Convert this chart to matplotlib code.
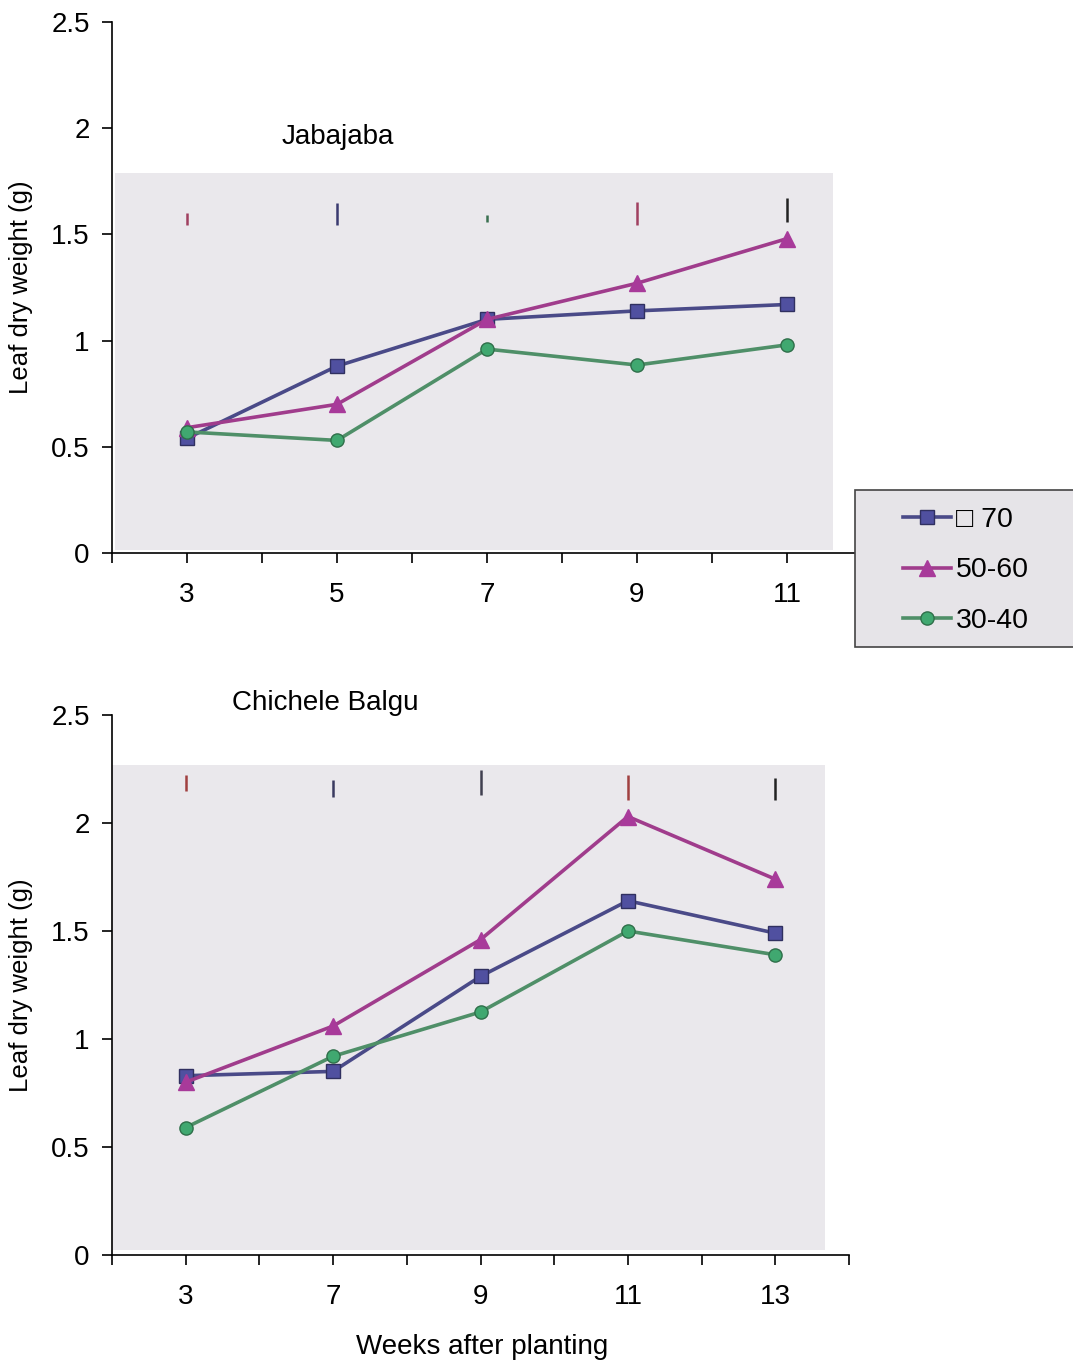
import numpy as np
import matplotlib
matplotlib.use("Agg")
import matplotlib.pyplot as plt
from matplotlib.patches import Rectangle

plt.rcParams['font.family'] = ['Liberation Sans', 'DejaVu Sans']

# data
weeks_top = ["3", "5", "7", "9", "11"]
weeks_bot = ["3", "7", "9", "11", "13"]
labels = ["\u25a1 70", "50-60", "30-40"]

jab_70 = [0.54, 0.88, 1.10, 1.14, 1.17]
jab_50 = [0.59, 0.70, 1.10, 1.27, 1.48]
jab_30 = [0.57, 0.53, 0.96, 0.885, 0.98]

chi_70 = [0.83, 0.85, 1.29, 1.64, 1.49]
chi_50 = [0.80, 1.06, 1.46, 2.03, 1.74]
chi_30 = [0.59, 0.92, 1.125, 1.50, 1.39]

# small vertical bars at the top of each panel (low, high)
jab_bar_lo = [1.544, 1.544, 1.56, 1.544, 1.56]
jab_bar_hi = [1.60, 1.648, 1.591, 1.652, 1.67]
jab_bar_col = ["#a04060", "#3a3a70", "#3a7050", "#a04060", "#222222"]
chi_bar_lo = [2.15, 2.12, 2.13, 2.107, 2.107]
chi_bar_hi = [2.22, 2.20, 2.245, 2.22, 2.21]
chi_bar_col = ["#a04040", "#3a3a60", "#404050", "#a04040", "#222222"]

col_70 = "#4a4a88"
col_50 = "#a03c8c"
col_30 = "#4f8f68"

fig = plt.figure(figsize=(10.73, 13.62), dpi=100)

# grey scanned background behind plots
fig.patches.append(Rectangle((115/1073, 1-550/1362), 718/1073, 377/1362,
                             transform=fig.transFigure, facecolor="#eae8ec",
                             edgecolor="none", zorder=0))
fig.patches.append(Rectangle((112/1073, 1-1250/1362), 713/1073, 485/1362,
                             transform=fig.transFigure, facecolor="#eae8ec",
                             edgecolor="none", zorder=0))
# legend box
fig.patches.append(Rectangle((855/1073, 1-647/1362), 230/1073, 157/1362,
                             transform=fig.transFigure, facecolor="#e6e4e8",
                             edgecolor="#444444", lw=1.2, zorder=3))

ax1 = fig.add_axes([112/1073, 1-553/1362, 750/1073, 531/1362])
ax2 = fig.add_axes([112/1073, 1-1255/1362, 737/1073, 540/1362])
ax1.set_zorder(2)
ax2.set_zorder(2)


def draw(ax, cats, s70, s50, s30, blo, bhi, bcol):
    x = np.arange(len(cats))
    ax.patch.set_alpha(0)
    l1, = ax.plot(x, s70, color=col_70, lw=2.6, marker="s", ms=9.5,
                  mfc="#5050a0", mec="#303060", label=labels[0])
    l2, = ax.plot(x, s50, color=col_50, lw=2.6, marker="^", ms=11,
                  mfc="#a83a9a", mec="#a83a9a", label=labels[1])
    l3, = ax.plot(x, s30, color=col_30, lw=2.6, marker="o", ms=9.5,
                  mfc="#40a870", mec="#2f6f4a", label=labels[2])
    ax.vlines(x, blo, bhi, colors=bcol, lw=1.8)
    ax.set_xlim(-0.5, 4.5)
    ax.set_ylim(0, 2.5)
    ax.set_yticks([0, 0.5, 1, 1.5, 2, 2.5])
    ax.set_yticklabels(["0", "0.5", "1", "1.5", "2", "2.5"])
    ax.set_xticks(x)
    ax.set_xticklabels(cats)
    ax.set_xticks(np.arange(-0.5, 4.6, 1), minor=True)
    for s in ["top", "right"]:
        ax.spines[s].set_visible(False)
    ax.spines["left"].set_linewidth(1.2)
    ax.spines["bottom"].set_linewidth(1.2)
    ax.tick_params(axis="both", which="both", direction="out", length=7, width=1.2, labelsize=20)
    ax.tick_params(axis="x", which="major", pad=14)
    ax.tick_params(axis="y", pad=9)
    ax.set_ylabel("Leaf dry weight (g)", fontsize=18.5)
    return [l1, l2, l3]


handles = draw(ax1, weeks_top, jab_70, jab_50, jab_30, jab_bar_lo, jab_bar_hi, jab_bar_col)
draw(ax2, weeks_bot, chi_70, chi_50, chi_30, chi_bar_lo, chi_bar_hi, chi_bar_col)
ax1.yaxis.set_label_coords(-0.105, 0.5)
ax2.yaxis.set_label_coords(-0.107, 0.5)

fig.text(338/1073, 1-137/1362, "Jabajaba", fontsize=20, ha="center", va="center")
fig.text(325/1073, 1-703/1362, "Chichele Balgu", fontsize=20, ha="center", va="center")
fig.text(482/1073, 1-1347/1362, "Weeks after planting", fontsize=20, ha="center", va="center")

leg = fig.legend(handles=handles, loc="upper left", bbox_to_anchor=(903/1073, 1-507/1362),
                 fontsize=20.5, frameon=False, handlelength=1.7,
                 borderpad=0, borderaxespad=0, labelspacing=0.86, handletextpad=0.15)
leg.set_zorder(4)

plt.savefig("out.png", dpi=100)
